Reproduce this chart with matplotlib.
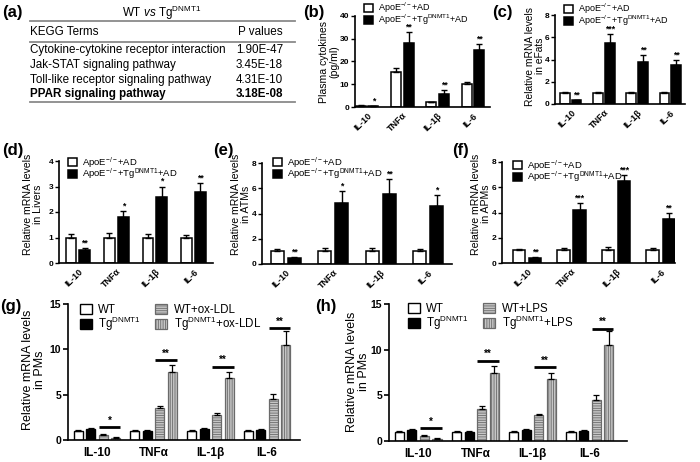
import matplotlib
matplotlib.use('Agg')
import matplotlib.pyplot as plt
from matplotlib.lines import Line2D
import numpy as np

plt.rcParams['font.family'] = 'Liberation Sans'
plt.rcParams['mathtext.fontset'] = 'custom'
plt.rcParams['mathtext.rm'] = 'Liberation Sans'
plt.rcParams['mathtext.it'] = 'Liberation Sans:italic'
plt.rcParams['mathtext.bf'] = 'Liberation Sans:bold'
plt.rcParams['hatch.linewidth'] = 0.6

W, H = 700, 462

# (a) KEGG table
kegg_terms = ['Cytokine-cytokine receptor interaction', 'Jak-STAT signaling pathway',
              'Toll-like receptor signaling pathway', 'PPAR signaling pathway']
kegg_p = ['1.90E-47', '3.45E-18', '4.31E-10', '3.18E-08']

cytokines = ['IL-10', 'TNFα', 'IL-1β', 'IL-6']
ctrl_label = 'ApoE$^{-/-}$+AD'
tg_label = 'ApoE$^{-/-}$+Tg$^{\\rm DNMT1}$+AD'

# (b) plasma cytokines
b_ctrl = [0.6, 15.3, 2.1, 10.1]
b_ctrl_err = [0.1, 1.8, 0.2, 0.9]
b_tg = [0.4, 28.0, 5.6, 25.0]
b_tg_err = [0.1, 5.0, 2.0, 2.5]
b_sig = ['*', '**', '**', '**']

# (c) eFats
c_ctrl = [1.0, 1.0, 1.0, 1.0]
c_ctrl_err = [0.08, 0.12, 0.08, 0.06]
c_tg = [0.36, 5.5, 3.8, 3.5]
c_tg_err = [0.04, 0.8, 0.6, 0.45]
c_sig = ['**', '***', '**', '**']

# (d) Livers
d_ctrl = [1.0, 1.0, 1.0, 1.0]
d_ctrl_err = [0.14, 0.17, 0.15, 0.1]
d_tg = [0.52, 1.82, 2.6, 2.8]
d_tg_err = [0.05, 0.2, 0.4, 0.32]
d_sig = ['**', '*', '*', '**']

# (e) ATMs
e_ctrl = [1.0, 1.0, 1.0, 1.0]
e_ctrl_err = [0.22, 0.25, 0.3, 0.22]
e_tg = [0.5, 4.84, 5.53, 4.6]
e_tg_err = [0.08, 0.96, 1.17, 0.9]
e_sig = ['**', '*', '**', '*']

# (f) APMs
f_ctrl = [1.0, 1.0, 1.0, 1.0]
f_ctrl_err = [0.13, 0.2, 0.3, 0.15]
f_tg = [0.37, 4.22, 6.5, 3.5]
f_tg_err = [0.08, 0.53, 0.44, 0.46]
f_sig = ['**', '***', '***', '**']

# (g) PMs, ox-LDL
g_wt = [1.0, 1.0, 1.0, 1.0]
g_wt_err = [0.1, 0.12, 0.06, 0.1]
g_tg = [1.2, 0.95, 1.2, 1.1]
g_tg_err = [0.08, 0.12, 0.08, 0.12]
g_wt_stim = [0.6, 3.5, 2.8, 4.5]
g_wt_stim_err = [0.05, 0.3, 0.2, 0.55]
g_tg_stim = [0.25, 7.5, 6.8, 10.5]
g_tg_stim_err = [0.03, 0.75, 0.7, 1.5]
g_sig = ['*', '**', '**', '**']
g_sig_y = [1.45, 8.8, 8.1, 12.3]

# (h) PMs, LPS
h_wt = [1.0, 1.0, 1.0, 1.0]
h_wt_err = [0.1, 0.12, 0.06, 0.1]
h_tg = [1.2, 0.95, 1.2, 1.1]
h_tg_err = [0.08, 0.12, 0.08, 0.12]
h_wt_stim = [0.6, 3.5, 2.8, 4.5]
h_wt_stim_err = [0.05, 0.3, 0.2, 0.55]
h_tg_stim = [0.25, 7.5, 6.8, 10.5]
h_tg_stim_err = [0.03, 0.75, 0.7, 1.5]
h_sig = ['*', '**', '**', '**']
h_sig_y = [1.45, 8.8, 8.1, 12.3]


def rect(l, r, t, b):
    return [l / W, 1 - b / H, (r - l) / W, (b - t) / H]


def fx(x):
    return x / W


def fy(y):
    return 1 - y / H


def style_axes(ax):
    for s in ['top', 'right']:
        ax.spines[s].set_visible(False)
    for s in ['left', 'bottom']:
        ax.spines[s].set_linewidth(1.2)


def pair_panel(ax, ctrl, ctrl_err, tg, tg_err, sig, ymax, yticks, xlim, leg_xy, leg_fs):
    x = np.arange(len(cytokines))
    z = np.zeros(len(x))
    b1 = ax.bar(x - 0.18, ctrl, 0.28, color='white', edgecolor='black', linewidth=1.1)
    b2 = ax.bar(x + 0.18, tg, 0.28, color='black', edgecolor='black', linewidth=1.1)
    ax.errorbar(x - 0.18, ctrl, yerr=[z, ctrl_err], fmt='none', ecolor='black',
                elinewidth=1, capsize=2, capthick=1)
    ax.errorbar(x + 0.18, tg, yerr=[z, tg_err], fmt='none', ecolor='black',
                elinewidth=1, capsize=2, capthick=1)
    for i, s in enumerate(sig):
        ax.text(x[i] + 0.18, tg[i] + tg_err[i] + ymax * 0.005, s, ha='center',
                va='bottom', fontsize=6.3, fontweight='bold')
    ax.set_ylim(0, ymax)
    ax.set_yticks(yticks)
    ax.set_xlim(xlim)
    ax.set_xticks(x)
    ax.set_xticklabels(cytokines, rotation=45, ha='right', rotation_mode='anchor',
                       fontsize=6.5, fontweight='bold')
    ax.tick_params(axis='x', length=0, pad=3)
    ax.tick_params(axis='y', length=3, width=1, labelsize=6, pad=1.2)
    for t in ax.get_yticklabels():
        t.set_fontweight('bold')
    style_axes(ax)
    ax.legend([b1, b2], [ctrl_label, tg_label], loc='upper left',
              bbox_to_anchor=(fx(leg_xy[0]), fy(leg_xy[1])), bbox_transform=fig.transFigure,
              frameon=False, fontsize=leg_fs, handlelength=1.0, handleheight=1.0,
              handletextpad=0.5, labelspacing=-0.3, borderpad=0, borderaxespad=0)


def quad_panel(ax, wt, wt_err, tg, tg_err, wts, wts_err, tgs, tgs_err, sig, sig_y,
               stim, xlim, leg_xy):
    x = np.arange(len(cytokines))
    z = np.zeros(len(x))
    off = [-0.33, -0.11, 0.11, 0.33]
    w = 0.16
    b1 = ax.bar(x + off[0], wt, w, color='white', edgecolor='black', linewidth=1)
    b2 = ax.bar(x + off[1], tg, w, color='black', edgecolor='black', linewidth=1)
    b3 = ax.bar(x + off[2], wts, w, color='#c6c6c6', edgecolor='#6a6a6a',
                linewidth=0.9, hatch='-------')
    b4 = ax.bar(x + off[3], tgs, w, color='#c6c6c6', edgecolor='#6a6a6a',
                linewidth=0.9, hatch='|||||||')
    for o, v, e in [(off[0], wt, wt_err), (off[1], tg, tg_err),
                    (off[2], wts, wts_err), (off[3], tgs, tgs_err)]:
        ax.errorbar(x + o, v, yerr=[z, e], fmt='none', ecolor='black',
                    elinewidth=0.9, capsize=2, capthick=0.9)
    for i, s in enumerate(sig):
        x0 = x[i] + off[2] - w / 2
        x1 = x[i] + off[3] + w / 2
        ax.plot([x0, x1], [sig_y[i], sig_y[i]], color='black', lw=2, solid_capstyle='butt')
        ax.text((x0 + x1) / 2, sig_y[i] + 0.15, s, ha='center', va='bottom',
                fontsize=7, fontweight='bold')
    ax.set_ylim(0, 15)
    ax.set_yticks([0, 5, 10, 15])
    ax.set_xlim(xlim)
    ax.set_xticks(x)
    ax.set_xticklabels(cytokines, fontsize=8.5, fontweight='bold')
    ax.tick_params(axis='x', length=0, pad=5)
    ax.tick_params(axis='y', length=3.5, width=1.2, labelsize=7.5, pad=1.5)
    for t in ax.get_yticklabels():
        t.set_fontweight('bold')
    style_axes(ax)
    ax.legend([b1, b2, b3, b4],
              ['WT', 'Tg$^{\\rm DNMT1}$', 'WT+' + stim, 'Tg$^{\\rm DNMT1}$+' + stim],
              loc='upper left', ncol=2, bbox_to_anchor=(fx(leg_xy[0]), fy(leg_xy[1])),
              bbox_transform=fig.transFigure, frameon=False, fontsize=8.3,
              handlelength=1.0, handleheight=0.9, handletextpad=0.6,
              labelspacing=-0.1, columnspacing=1.2, borderpad=0, borderaxespad=0)


fig = plt.figure(figsize=(7, 4.62), dpi=100)

# panel (a) table
fig.text(fx(2), fy(12), '(a)', fontsize=12, fontweight='bold', va='center')
fig.text(fx(162), fy(13), 'WT $\\it{vs}$ Tg$^{\\rm DNMT1}$', fontsize=8.4,
         ha='center', va='center')
for yl in [21, 42, 102]:
    fig.add_artist(Line2D([fx(30), fx(295)], [fy(yl), fy(yl)], transform=fig.transFigure,
                          color='#8a8a8a', lw=1.3))
fig.text(fx(30), fy(32), 'KEGG Terms', fontsize=8.4, va='center')
fig.text(fx(238), fy(32), 'P values', fontsize=8.4, va='center')
for i, (term, p) in enumerate(zip(kegg_terms, kegg_p)):
    wgt = 'bold' if i == len(kegg_terms) - 1 else 'normal'
    yy = [50, 65, 80, 94][i]
    fig.text(fx(30), fy(yy), term, fontsize=8.4, va='center', fontweight=wgt)
    fig.text(fx(236), fy(yy), p, fontsize=8.4, va='center', fontweight=wgt)

# panel labels
for lab, xx, yy in [('(b)', 303, 12), ('(c)', 492, 12), ('(d)', 2, 150),
                    ('(e)', 213, 150), ('(f)', 452, 150), ('(g)', 0, 307), ('(h)', 315, 307)]:
    fig.text(fx(xx), fy(yy), lab, fontsize=12, fontweight='bold', va='center')

# y labels
for lab, xx, yy, fs in [('Plasma cytokines\n(pg/ml)', 329, 62, 7.6),
                        ('Relative mRNA levels\nin eFats', 535, 56, 7.4),
                        ('Relative mRNA levels\nin Livers', 33, 204, 7.6),
                        ('Relative mRNA levels\nin ATMs', 241, 204, 7.6),
                        ('Relative mRNA levels\nin APMs', 481, 204, 7.6),
                        ('Relative mRNA levels\nin PMs', 34, 370, 9),
                        ('Relative mRNA levels\nin PMs', 358, 372, 9)]:
    fig.text(fx(xx), fy(yy), lab, rotation=90, fontsize=fs, ha='center', va='center',
             multialignment='center', linespacing=1.1)

ax_b = fig.add_axes(rect(355, 490, 16, 107))
pair_panel(ax_b, b_ctrl, b_ctrl_err, b_tg, b_tg_err, b_sig, 40, [0, 10, 20, 30, 40],
           (-0.34, 3.48), (364, 1), 6.5)

ax_c = fig.add_axes(rect(555, 685, 15, 104))
pair_panel(ax_c, c_ctrl, c_ctrl_err, c_tg, c_tg_err, c_sig, 8, [0, 2, 4, 6, 8],
           (-0.48, 3.45), (564, 2), 6.5)

ax_d = fig.add_axes(rect(59, 213, 161, 263))
pair_panel(ax_d, d_ctrl, d_ctrl_err, d_tg, d_tg_err, d_sig, 4, [0, 1, 2, 3, 4],
           (-0.49, 3.51), (68, 155), 6.8)

ax_e = fig.add_axes(rect(262, 452, 163, 264))
pair_panel(ax_e, e_ctrl, e_ctrl_err, e_tg, e_tg_err, e_sig, 8, [0, 2, 4, 6, 8],
           (-0.5, 3.5), (273, 155), 6.8)

ax_f = fig.add_axes(rect(502, 675, 162, 263))
pair_panel(ax_f, f_ctrl, f_ctrl_err, f_tg, f_tg_err, f_sig, 8, [0, 2, 4, 6, 8],
           (-0.56, 3.32), (513, 158), 6.8)

ax_g = fig.add_axes(rect(68, 300, 304, 440))
quad_panel(ax_g, g_wt, g_wt_err, g_tg, g_tg_err, g_wt_stim, g_wt_stim_err,
           g_tg_stim, g_tg_stim_err, g_sig, g_sig_y, 'ox-LDL', (-0.51, 3.58), (80, 304))

ax_h = fig.add_axes(rect(389, 627, 304, 441))
quad_panel(ax_h, h_wt, h_wt_err, h_tg, h_tg_err, h_wt_stim, h_wt_stim_err,
           h_tg_stim, h_tg_stim_err, h_sig, h_sig_y, 'LPS', (-0.51, 3.65), (408, 303))

fig.savefig('out.png', dpi=100)
